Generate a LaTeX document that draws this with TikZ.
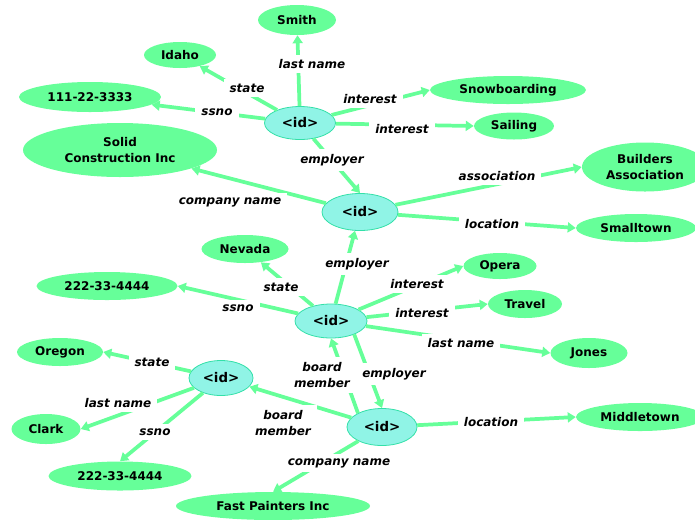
\documentclass[tikz,border=0pt]{standalone}
\usepackage{fontspec}
\setmainfont{DejaVu Sans}
\usetikzlibrary{arrows.meta,shapes.geometric}

\definecolor{valgreen}{HTML}{66FF99}
\definecolor{idfill}{HTML}{90F4E6}
\definecolor{idedge}{HTML}{33E0A8}

\begin{document}
\begin{tikzpicture}[
    x=.75pt,y=-.75pt,font=\fontsize{9}{12.5}\selectfont\bfseries,
    sz/.style 2 args={minimum width=#1*.75pt,minimum height=#2*.75pt},
    value/.style={ellipse,fill=valgreen,inner sep=0pt,align=center},
    entity/.style={ellipse,fill=idfill,draw=idedge,line width=.6pt,inner sep=0pt,
        font=\fontsize{10}{12}\selectfont\bfseries},
    link/.style={draw=valgreen,line width=2.8pt,-{Triangle[length=6pt,width=7.5pt]}},
    tag/.style={fill=white,inner xsep=4.5pt,inner ysep=3.5pt,align=center,
        font=\fontsize{9}{12.5}\selectfont\bfseries\itshape}
]
    \useasboundingbox (0,0) rectangle (695,519);

    % The five objects.
    \node[entity,sz={71}{33}] (id1) at (300,123) {<id>};
    \node[entity,sz={76}{37}] (id2) at (360,212) {<id>};
    \node[entity,sz={72}{34}] (id3) at (331,321) {<id>};
    \node[entity,sz={64}{35}] (id4) at (221,378) {<id>};
    \node[entity,sz={70}{37}] (id5) at (382,427) {<id>};

    % Atomic values.
    \node[value,sz={78}{30}]  (smith)      at (297,20)  {Smith};
    \node[value,sz={72}{26}]  (idaho)      at (180,55)  {Idaho};
    \node[value,sz={142}{30}] (ssnoA)      at (90,97)   {111-22-3333};
    \node[value,sz={156}{28}] (snow)       at (508,90)  {Snowboarding};
    \node[value,sz={80}{27}]  (sailing)    at (514,126) {Sailing};
    \node[value,sz={194}{54}] (solid)      at (120,150) {Solid\\Construction Inc};
    \node[value,sz={126}{49}] (builders)   at (645,167) {Builders\\Association};
    \node[value,sz={120}{28}] (smalltown)  at (636,228) {Smalltown};
    \node[value,sz={87}{28}]  (nevada)     at (245,249) {Nevada};
    \node[value,sz={141}{28}] (ssnoB)      at (107,286) {222-33-4444};
    \node[value,sz={73}{26}]  (opera)      at (500,266) {Opera};
    \node[value,sz={74}{28}]  (travel)     at (525,304) {Travel};
    \node[value,sz={77}{30}]  (jones)      at (589,353) {Jones};
    \node[value,sz={86}{28}]  (oregon)     at (60,352)  {Oregon};
    \node[value,sz={69}{30}]  (clark)      at (46,429)  {Clark};
    \node[value,sz={143}{29}] (ssnoC)      at (120,476) {222-33-4444};
    \node[value,sz={128}{28}] (middletown) at (640,417) {Middletown};
    \node[value,sz={194}{28}] (fast)       at (273,506) {Fast Painters Inc};

    % Edges, object to value or object to object.
    \foreach \from/\to in {id1/smith,id1/idaho,id1/ssnoA,id1/snow.west,
            id1/sailing.west,id1/id2.north,
            id2/solid,id2/builders.west,id2/smalltown.west,
            id3/id2,id3/nevada,id3/ssnoB.east,id3/opera.west,id3/travel.west,
            id3/jones.west,id3.-30/id5.north,
            id4/oregon.east,id4/clark.east,id4/ssnoC.north,
            id5.150/id3.south,id5/id4,id5/middletown.west,id5/fast.north}
        \draw[link] (\from) -- (\to);

    % Edge labels sit on top of the lines.
    \foreach \x/\y/\name [count=\i] in {312/64/last name,247/88/state,
            217/112/ssno,370/99/interest,402/129/interest,332/160/employer,
            230/202/company name,497/176/association,492/224/location,
            357/264/employer,281/287/state,238/308/ssno,417/284/interest,
            422/313/interest,461/343/last name,394/374/employer,
            152/362/state,118/403/last name,155/432/ssno,
            491/422/location,339/463/company name}
        \node[tag] (tag\i) at (\x,\y) {\name};
    \node[tag] (boardA) at (322,375) {board\\member};
    \node[tag] (boardB) at (283,423) {board\\member};
\end{tikzpicture}
\end{document}
